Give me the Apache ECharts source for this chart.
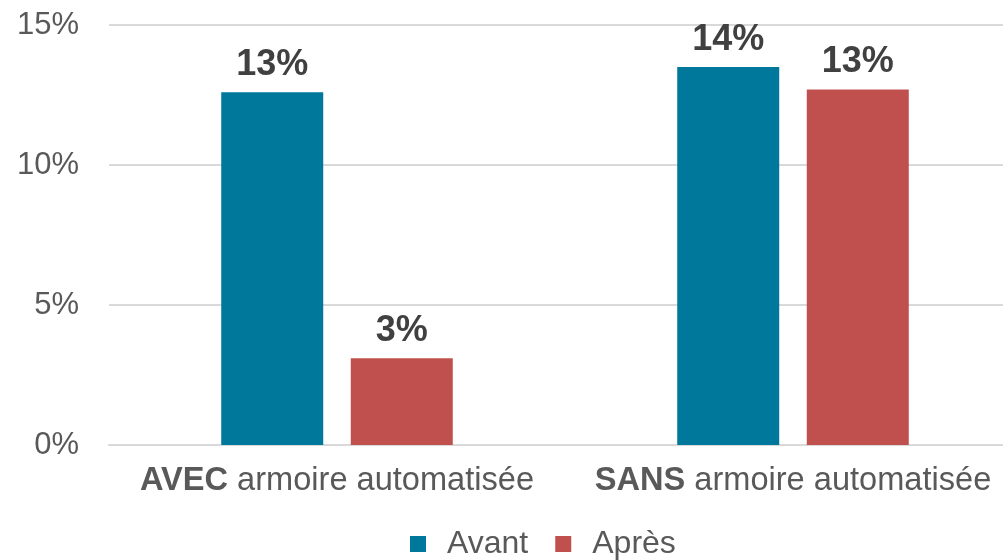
<!DOCTYPE html>
<html>
<head>
<meta charset="utf-8">
<script src="https://cdn.jsdelivr.net/npm/echarts@6/dist/echarts.min.js"></script>
<style>
  html, body { margin: 0; padding: 0; background: #fff; }
  #main { width: 1003px; height: 560px; }
</style>
</head>
<body>
<div id="main"></div>
<script>
var categories = ['AVEC armoire automatisée', 'SANS armoire automatisée'];
var avant = [12.6, 13.5];
var apres = [3.1, 12.7];
var yTicks = [0, 5, 10, 15];

var myChart = echarts.init(document.getElementById('main'));
var font = '"Liberation Sans", Arial, sans-serif';

var barLabel = {
  show: true,
  position: 'top',
  distance: 9,
  fontFamily: font,
  fontSize: 36,
  fontWeight: 'bold',
  color: '#404040',
  formatter: function (p) { return Math.round(p.value) + '%'; }
};

var option = {
  animation: false,
  textStyle: { fontFamily: font },
  // plot runs a bit past the right edge, like the original
  grid: { left: 109, width: 912, top: 25, bottom: 115, containLabel: false, outerBoundsMode: 'none' },
  legend: {
    data: ['Avant', 'Après'],
    left: 405,
    top: 523,
    icon: 'rect',
    itemWidth: 16,
    itemHeight: 16,
    itemGap: 27,
    textStyle: { fontFamily: font, fontSize: 32, color: '#595959', padding: [0, 0, 0, 16] }
  },
  xAxis: {
    type: 'category',
    data: categories,
    axisLine: { show: true, lineStyle: { color: '#d9d9d9', width: 2 } },
    axisTick: { show: false },
    axisLabel: {
      interval: 0,
      margin: 20,
      fontFamily: font,
      fontSize: 32.6,
      color: '#595959',
      formatter: function (v) {
        var i = v.indexOf(' ');
        return '{b|' + v.slice(0, i) + '}' + v.slice(i);
      },
      rich: {
        b: { fontFamily: font, fontSize: 32.6, fontWeight: 'bold', color: '#595959' }
      }
    }
  },
  yAxis: {
    type: 'value',
    min: yTicks[0],
    max: yTicks[yTicks.length - 1],
    interval: yTicks[1] - yTicks[0],
    axisLine: { show: false },
    axisTick: { show: false },
    splitLine: { lineStyle: { color: '#d9d9d9', width: 2 } },
    axisLabel: {
      margin: 30,
      fontFamily: font,
      fontSize: 31,
      color: '#595959',
      formatter: '{value}%'
    }
  },
  series: [
    {
      name: 'Avant',
      type: 'bar',
      data: avant,
      barWidth: 102,
      barGap: '27%',
      itemStyle: { color: '#00789c' },
      label: barLabel
    },
    {
      name: 'Après',
      type: 'bar',
      data: apres,
      barWidth: 102,
      itemStyle: { color: '#c0504d' },
      label: barLabel
    }
  ]
};

myChart.setOption(option);
</script>
</body>
</html>
